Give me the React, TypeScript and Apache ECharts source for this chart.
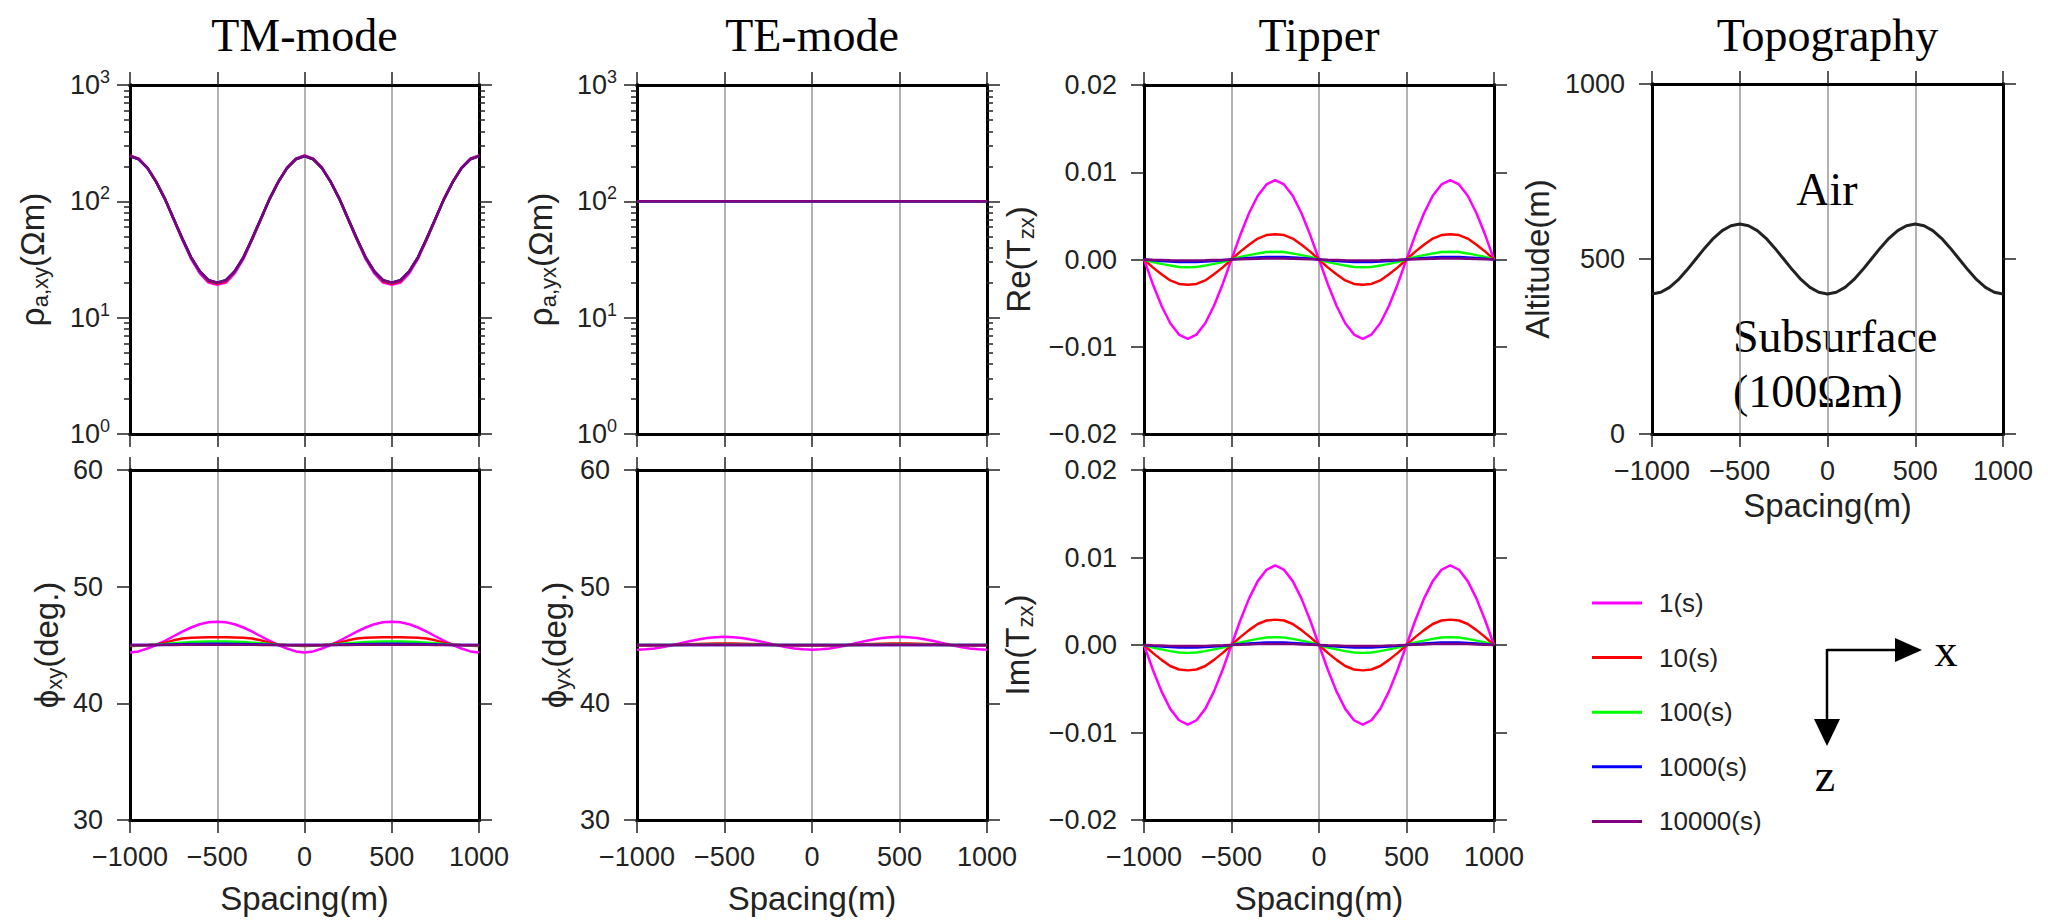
import React, { useEffect, useRef } from 'react';
import * as echarts from 'echarts';

// ---------------- data ----------------
const spacing = [-1000, -950, -900, -850, -800, -750, -700, -650, -600, -550, -500, -450, -400, -350, -300, -250, -200, -150, -100, -50, 0, 50, 100, 150, 200, 250, 300, 350, 400, 450, 500, 550, 600, 650, 700, 750, 800, 850, 900, 950, 1000];

const periodNames = ['1(s)', '10(s)', '100(s)', '1000(s)', '10000(s)'];
const periodColors = ['#ff00ff', '#ff0000', '#00ff00', '#0000ff', '#800080'];

const panelTitles = ['TM-mode', 'TE-mode', 'Tipper', 'Topography'];
const logMajor = [1, 10, 100, 1000];
const logMinor = [2, 3, 4, 5, 6, 7, 8, 9, 20, 30, 40, 50, 60, 70, 80, 90, 200, 300, 400, 500, 600, 700, 800, 900];

// TM-mode apparent resistivity (Ohm-m)
const rhoXY_1s = [248, 233, 195, 148, 105, 70, 47, 32, 24, 20, 19.2, 20, 24, 32, 47, 70, 105, 148, 195, 233, 248, 233, 195, 148, 105, 70, 47, 32, 24, 20, 19.2, 20, 24, 32, 47, 70, 105, 148, 195, 233, 248];
const rhoXY_10s = [247, 232, 194, 147, 105, 70, 47, 33, 25, 20.5, 19.6, 20.5, 25, 33, 47, 70, 105, 147, 194, 232, 247, 232, 194, 147, 105, 70, 47, 33, 25, 20.5, 19.6, 20.5, 25, 33, 47, 70, 105, 147, 194, 232, 247];
const rhoXY_100s = [245, 230, 193, 147, 105, 71, 48, 33, 25, 21, 20, 21, 25, 33, 48, 71, 105, 147, 193, 230, 245, 230, 193, 147, 105, 71, 48, 33, 25, 21, 20, 21, 25, 33, 48, 71, 105, 147, 193, 230, 245];
const rhoXY_1000s = [245, 230, 193, 147, 105, 71, 48, 33, 25, 21, 20, 21, 25, 33, 48, 71, 105, 147, 193, 230, 245, 230, 193, 147, 105, 71, 48, 33, 25, 21, 20, 21, 25, 33, 48, 71, 105, 147, 193, 230, 245];
const rhoXY_10000s = [245, 230, 193, 147, 105, 71, 48, 33, 25, 21, 20, 21, 25, 33, 48, 71, 105, 147, 193, 230, 245, 230, 193, 147, 105, 71, 48, 33, 25, 21, 20, 21, 25, 33, 48, 71, 105, 147, 193, 230, 245];

// TM-mode phase (deg.)
const phiXY_1s = [44.35, 44.45, 44.7, 45.0, 45.35, 45.75, 46.15, 46.5, 46.78, 46.95, 47.0, 46.95, 46.78, 46.5, 46.15, 45.75, 45.35, 45.0, 44.7, 44.45, 44.35, 44.45, 44.7, 45.0, 45.35, 45.75, 46.15, 46.5, 46.78, 46.95, 47.0, 46.95, 46.78, 46.5, 46.15, 45.75, 45.35, 45.0, 44.7, 44.45, 44.35];
const phiXY_10s = [44.92, 44.93, 44.97, 45.05, 45.2, 45.4, 45.55, 45.62, 45.65, 45.66, 45.66, 45.66, 45.65, 45.62, 45.55, 45.4, 45.2, 45.05, 44.97, 44.93, 44.92, 44.93, 44.97, 45.05, 45.2, 45.4, 45.55, 45.62, 45.65, 45.66, 45.66, 45.66, 45.65, 45.62, 45.55, 45.4, 45.2, 45.05, 44.97, 44.93, 44.92];
const phiXY_100s = [44.98, 44.98, 45.0, 45.03, 45.08, 45.14, 45.2, 45.25, 45.28, 45.3, 45.3, 45.3, 45.28, 45.25, 45.2, 45.14, 45.08, 45.03, 45.0, 44.98, 44.98, 44.98, 45.0, 45.03, 45.08, 45.14, 45.2, 45.25, 45.28, 45.3, 45.3, 45.3, 45.28, 45.25, 45.2, 45.14, 45.08, 45.03, 45.0, 44.98, 44.98];
const phiXY_1000s = [45.0, 45.0, 45.0, 45.01, 45.03, 45.05, 45.07, 45.08, 45.09, 45.1, 45.1, 45.1, 45.09, 45.08, 45.07, 45.05, 45.03, 45.01, 45.0, 45.0, 45.0, 45.0, 45.0, 45.01, 45.03, 45.05, 45.07, 45.08, 45.09, 45.1, 45.1, 45.1, 45.09, 45.08, 45.07, 45.05, 45.03, 45.01, 45.0, 45.0, 45.0];
const phiXY_10000s = [45.0, 45.0, 45.0, 45.0, 45.01, 45.01, 45.02, 45.02, 45.03, 45.03, 45.03, 45.03, 45.03, 45.02, 45.02, 45.01, 45.01, 45.0, 45.0, 45.0, 45.0, 45.0, 45.0, 45.0, 45.01, 45.01, 45.02, 45.02, 45.03, 45.03, 45.03, 45.03, 45.03, 45.02, 45.02, 45.01, 45.01, 45.0, 45.0, 45.0, 45.0];

// TE-mode apparent resistivity (Ohm-m)
const rhoYX_1s = [100, 100, 100, 100, 100, 100, 100, 100, 100, 100, 100, 100, 100, 100, 100, 100, 100, 100, 100, 100, 100, 100, 100, 100, 100, 100, 100, 100, 100, 100, 100, 100, 100, 100, 100, 100, 100, 100, 100, 100, 100];
const rhoYX_10s = [100, 100, 100, 100, 100, 100, 100, 100, 100, 100, 100, 100, 100, 100, 100, 100, 100, 100, 100, 100, 100, 100, 100, 100, 100, 100, 100, 100, 100, 100, 100, 100, 100, 100, 100, 100, 100, 100, 100, 100, 100];
const rhoYX_100s = [100, 100, 100, 100, 100, 100, 100, 100, 100, 100, 100, 100, 100, 100, 100, 100, 100, 100, 100, 100, 100, 100, 100, 100, 100, 100, 100, 100, 100, 100, 100, 100, 100, 100, 100, 100, 100, 100, 100, 100, 100];
const rhoYX_1000s = [100, 100, 100, 100, 100, 100, 100, 100, 100, 100, 100, 100, 100, 100, 100, 100, 100, 100, 100, 100, 100, 100, 100, 100, 100, 100, 100, 100, 100, 100, 100, 100, 100, 100, 100, 100, 100, 100, 100, 100, 100];
const rhoYX_10000s = [100, 100, 100, 100, 100, 100, 100, 100, 100, 100, 100, 100, 100, 100, 100, 100, 100, 100, 100, 100, 100, 100, 100, 100, 100, 100, 100, 100, 100, 100, 100, 100, 100, 100, 100, 100, 100, 100, 100, 100, 100];

// TE-mode phase (deg.)
const phiYX_1s = [44.6, 44.63, 44.7, 44.82, 44.98, 45.15, 45.32, 45.47, 45.6, 45.67, 45.7, 45.67, 45.6, 45.47, 45.32, 45.15, 44.98, 44.82, 44.7, 44.63, 44.6, 44.63, 44.7, 44.82, 44.98, 45.15, 45.32, 45.47, 45.6, 45.67, 45.7, 45.67, 45.6, 45.47, 45.32, 45.15, 44.98, 44.82, 44.7, 44.63, 44.6];
const phiYX_10s = [44.95, 44.95, 44.96, 44.98, 45.0, 45.03, 45.06, 45.09, 45.11, 45.12, 45.12, 45.12, 45.11, 45.09, 45.06, 45.03, 45.0, 44.98, 44.96, 44.95, 44.95, 44.95, 44.96, 44.98, 45.0, 45.03, 45.06, 45.09, 45.11, 45.12, 45.12, 45.12, 45.11, 45.09, 45.06, 45.03, 45.0, 44.98, 44.96, 44.95, 44.95];
const phiYX_100s = [45.0, 45.0, 45.0, 45.0, 45.01, 45.01, 45.02, 45.02, 45.03, 45.03, 45.03, 45.03, 45.03, 45.02, 45.02, 45.01, 45.01, 45.0, 45.0, 45.0, 45.0, 45.0, 45.0, 45.0, 45.01, 45.01, 45.02, 45.02, 45.03, 45.03, 45.03, 45.03, 45.03, 45.02, 45.02, 45.01, 45.01, 45.0, 45.0, 45.0, 45.0];
const phiYX_1000s = [45, 45, 45, 45, 45, 45, 45, 45, 45, 45, 45, 45, 45, 45, 45, 45, 45, 45, 45, 45, 45, 45, 45, 45, 45, 45, 45, 45, 45, 45, 45, 45, 45, 45, 45, 45, 45, 45, 45, 45, 45];
const phiYX_10000s = [45, 45, 45, 45, 45, 45, 45, 45, 45, 45, 45, 45, 45, 45, 45, 45, 45, 45, 45, 45, 45, 45, 45, 45, 45, 45, 45, 45, 45, 45, 45, 45, 45, 45, 45, 45, 45, 45, 45, 45, 45];

// Tipper, real part
const tzxRe_1s = [0, -0.0028, -0.0053, -0.0073, -0.0086, -0.0091, -0.0086, -0.0073, -0.0053, -0.0028, 0, 0.0028, 0.0053, 0.0073, 0.0086, 0.0091, 0.0086, 0.0073, 0.0053, 0.0028, 0, -0.0028, -0.0053, -0.0073, -0.0086, -0.0091, -0.0086, -0.0073, -0.0053, -0.0028, 0, 0.0028, 0.0053, 0.0073, 0.0086, 0.0091, 0.0086, 0.0073, 0.0053, 0.0028, 0];
const tzxRe_10s = [0, -0.0009, -0.0017, -0.0024, -0.0028, -0.0029, -0.0028, -0.0024, -0.0017, -0.0009, 0, 0.0009, 0.0017, 0.0024, 0.0028, 0.0029, 0.0028, 0.0024, 0.0017, 0.0009, 0, -0.0009, -0.0017, -0.0024, -0.0028, -0.0029, -0.0028, -0.0024, -0.0017, -0.0009, 0, 0.0009, 0.0017, 0.0024, 0.0028, 0.0029, 0.0028, 0.0024, 0.0017, 0.0009, 0];
const tzxRe_100s = [0, -0.0003, -0.0005, -0.0007, -0.00085, -0.0009, -0.00085, -0.0007, -0.0005, -0.0003, 0, 0.0003, 0.0005, 0.0007, 0.00085, 0.0009, 0.00085, 0.0007, 0.0005, 0.0003, 0, -0.0003, -0.0005, -0.0007, -0.00085, -0.0009, -0.00085, -0.0007, -0.0005, -0.0003, 0, 0.0003, 0.0005, 0.0007, 0.00085, 0.0009, 0.00085, 0.0007, 0.0005, 0.0003, 0];
const tzxRe_1000s = [0, -0.0001, -0.00018, -0.00024, -0.00028, -0.0003, -0.00028, -0.00024, -0.00018, -0.0001, 0, 0.0001, 0.00018, 0.00024, 0.00028, 0.0003, 0.00028, 0.00024, 0.00018, 0.0001, 0, -0.0001, -0.00018, -0.00024, -0.00028, -0.0003, -0.00028, -0.00024, -0.00018, -0.0001, 0, 0.0001, 0.00018, 0.00024, 0.00028, 0.0003, 0.00028, 0.00024, 0.00018, 0.0001, 0];
const tzxRe_10000s = [0, -0.00004, -0.00007, -0.0001, -0.00011, -0.00012, -0.00011, -0.0001, -0.00007, -0.00004, 0, 0.00004, 0.00007, 0.0001, 0.00011, 0.00012, 0.00011, 0.0001, 0.00007, 0.00004, 0, -0.00004, -0.00007, -0.0001, -0.00011, -0.00012, -0.00011, -0.0001, -0.00007, -0.00004, 0, 0.00004, 0.00007, 0.0001, 0.00011, 0.00012, 0.00011, 0.0001, 0.00007, 0.00004, 0];

// Tipper, imaginary part
const tzxIm_1s = [0, -0.0028, -0.0053, -0.0073, -0.0086, -0.0091, -0.0086, -0.0073, -0.0053, -0.0028, 0, 0.0028, 0.0053, 0.0073, 0.0086, 0.0091, 0.0086, 0.0073, 0.0053, 0.0028, 0, -0.0028, -0.0053, -0.0073, -0.0086, -0.0091, -0.0086, -0.0073, -0.0053, -0.0028, 0, 0.0028, 0.0053, 0.0073, 0.0086, 0.0091, 0.0086, 0.0073, 0.0053, 0.0028, 0];
const tzxIm_10s = [0, -0.0009, -0.0017, -0.0024, -0.0028, -0.0029, -0.0028, -0.0024, -0.0017, -0.0009, 0, 0.0009, 0.0017, 0.0024, 0.0028, 0.0029, 0.0028, 0.0024, 0.0017, 0.0009, 0, -0.0009, -0.0017, -0.0024, -0.0028, -0.0029, -0.0028, -0.0024, -0.0017, -0.0009, 0, 0.0009, 0.0017, 0.0024, 0.0028, 0.0029, 0.0028, 0.0024, 0.0017, 0.0009, 0];
const tzxIm_100s = [0, -0.0003, -0.0005, -0.0007, -0.00085, -0.0009, -0.00085, -0.0007, -0.0005, -0.0003, 0, 0.0003, 0.0005, 0.0007, 0.00085, 0.0009, 0.00085, 0.0007, 0.0005, 0.0003, 0, -0.0003, -0.0005, -0.0007, -0.00085, -0.0009, -0.00085, -0.0007, -0.0005, -0.0003, 0, 0.0003, 0.0005, 0.0007, 0.00085, 0.0009, 0.00085, 0.0007, 0.0005, 0.0003, 0];
const tzxIm_1000s = [0, -0.0001, -0.00018, -0.00024, -0.00028, -0.0003, -0.00028, -0.00024, -0.00018, -0.0001, 0, 0.0001, 0.00018, 0.00024, 0.00028, 0.0003, 0.00028, 0.00024, 0.00018, 0.0001, 0, -0.0001, -0.00018, -0.00024, -0.00028, -0.0003, -0.00028, -0.00024, -0.00018, -0.0001, 0, 0.0001, 0.00018, 0.00024, 0.00028, 0.0003, 0.00028, 0.00024, 0.00018, 0.0001, 0];
const tzxIm_10000s = [0, -0.00004, -0.00007, -0.0001, -0.00011, -0.00012, -0.00011, -0.0001, -0.00007, -0.00004, 0, 0.00004, 0.00007, 0.0001, 0.00011, 0.00012, 0.00011, 0.0001, 0.00007, 0.00004, 0, -0.00004, -0.00007, -0.0001, -0.00011, -0.00012, -0.00011, -0.0001, -0.00007, -0.00004, 0, 0.00004, 0.00007, 0.0001, 0.00011, 0.00012, 0.00011, 0.0001, 0.00007, 0.00004, 0];

// Topography (altitude, m)
const altitude = [400, 405, 419, 441, 469, 500, 531, 559, 581, 595, 600, 595, 581, 559, 531, 500, 469, 441, 419, 405, 400, 405, 419, 441, 469, 500, 531, 559, 581, 595, 600, 595, 581, 559, 531, 500, 469, 441, 419, 405, 400];

// ---------------- styling ----------------
const SANS = '"Liberation Sans", Arial, Helvetica, sans-serif';
const SERIF = '"Liberation Serif", "Times New Roman", Times, serif';
const TXT = '#222';

const gridRects = [
  { left: 130, top: 85, width: 349, height: 349 },
  { left: 130, top: 470, width: 349, height: 350 },
  { left: 637, top: 85, width: 350, height: 349 },
  { left: 637, top: 470, width: 350, height: 350 },
  { left: 1144, top: 85, width: 350, height: 349 },
  { left: 1144, top: 470, width: 350, height: 350 },
  { left: 1652, top: 84, width: 351, height: 350 },
];

const fmtSpacing = (v: number) => (v < 0 ? '\u2212' + Math.abs(v) : String(v));
const fmtPlain = (v: number) => String(v);
const fmtTipper = (v: number) => (Math.abs(v) < 1e-9 ? '0.00' : (v < 0 ? '\u2212' : '') + Math.abs(v).toFixed(2));
const fmtPow = (v: number) => `{b|10}{p|${Math.round(Math.log10(v))}}`;

function buildOption() {
  const xAxis: any[] = [];
  const yAxis: any[] = [];
  const series: any[] = [];

  const frame = { show: true, onZero: false, lineStyle: { color: '#000', width: 3, cap: 'square' } };
  const noLine = { show: false, onZero: false };
  const majorTick = { show: true, inside: false, length: 13, lineStyle: { color: TXT, width: 1.5 } };
  const minorTick = { show: true, inside: false, length: 6, lineStyle: { color: TXT, width: 1.5 } };
  const tickLabel = { fontSize: 27, fontFamily: SANS, color: TXT };
  const nameStyle = {
    fontSize: 33, fontFamily: SANS, color: TXT, lineHeight: 37,
    rich: {
      m: { fontSize: 33, fontFamily: SANS, color: TXT, lineHeight: 37 },
      s: { fontSize: 22, fontFamily: SANS, color: TXT, lineHeight: 20, verticalAlign: 'bottom' },
    },
  };

  function addX(gi: number, showLabels: boolean, nameGap: number) {
    const idx = xAxis.length;
    xAxis.push({
      type: 'value', gridIndex: gi, position: 'bottom', min: -1000, max: 1000, interval: 500, z: 3,
      axisLine: frame, axisTick: majorTick,
      axisLabel: { show: showLabels, margin: 23, ...tickLabel, formatter: fmtSpacing },
      splitLine: { show: false },
      name: showLabels ? 'Spacing(m)' : '', nameLocation: 'middle', nameGap, nameTextStyle: nameStyle, nameMoveOverlap: false,
    });
    xAxis.push({
      type: 'value', gridIndex: gi, position: 'top', min: -1000, max: 1000, interval: 500, z: 1,
      axisLine: frame, axisTick: majorTick, axisLabel: { show: false },
      splitLine: { show: true, lineStyle: { color: '#999', width: 1.5 } },
    });
    return idx;
  }

  function addYValue(gi: number, min: number, max: number, interval: number, fmt: any, name: string, nameGap: number) {
    const idx = yAxis.length;
    yAxis.push({
      type: 'value', gridIndex: gi, position: 'left', min, max, interval, z: 3,
      axisLine: frame, axisTick: majorTick,
      axisLabel: { margin: 27, ...tickLabel, formatter: fmt },
      splitLine: { show: false },
      name, nameLocation: 'middle', nameGap, nameRotate: 90, nameTextStyle: nameStyle, nameMoveOverlap: false,
    });
    yAxis.push({
      type: 'value', gridIndex: gi, position: 'right', min, max, interval, z: 3,
      axisLine: frame, axisTick: majorTick, axisLabel: { show: false }, splitLine: { show: false },
    });
    return idx;
  }

  function addYLog(gi: number, name: string, nameGap: number) {
    const idx = yAxis.length;
    const base = { type: 'log', logBase: 10, gridIndex: gi, min: 1, max: 1000, z: 3, splitLine: { show: false } };
    yAxis.push({
      ...base, position: 'left', axisLine: frame,
      axisTick: { ...majorTick, customValues: logMajor },
      axisLabel: {
        margin: 20, ...tickLabel, customValues: logMajor, formatter: fmtPow,
        rich: {
          b: { fontSize: 27, fontFamily: SANS, color: TXT, lineHeight: 34 },
          p: { fontSize: 18, fontFamily: SANS, color: TXT, lineHeight: 16, verticalAlign: 'top' },
        },
      },
      name, nameLocation: 'middle', nameGap, nameRotate: 90, nameTextStyle: nameStyle, nameMoveOverlap: false,
    });
    yAxis.push({ ...base, position: 'left', axisLine: noLine, axisTick: { ...minorTick, customValues: logMinor }, axisLabel: { show: false } });
    yAxis.push({ ...base, position: 'right', axisLine: frame, axisTick: { ...majorTick, customValues: logMajor }, axisLabel: { show: false } });
    yAxis.push({ ...base, position: 'right', axisLine: noLine, axisTick: { ...minorTick, customValues: logMinor }, axisLabel: { show: false } });
    return idx;
  }

  function addPeriodSeries(xi: number, yi: number, arrays: number[][]) {
    arrays.forEach((arr, k) => {
      series.push({
        type: 'line', name: periodNames[k], xAxisIndex: xi, yAxisIndex: yi,
        data: spacing.map((x, i) => [x, arr[i]]),
        symbol: 'none', showSymbol: false, clip: true, silent: true,
        lineStyle: { color: periodColors[k], width: 2.5 },
        itemStyle: { color: periodColors[k] },
      });
    });
  }

  // TM-mode
  let xi = addX(0, false, 60);
  let yi = addYLog(0, '{m|ρ}{s|a,xy}{m|(Ωm)}', 79);
  addPeriodSeries(xi, yi, [rhoXY_1s, rhoXY_10s, rhoXY_100s, rhoXY_1000s, rhoXY_10000s]);
  xi = addX(1, true, 60);
  yi = addYValue(1, 30, 60, 10, fmtPlain, '{m|ϕ}{s|xy}{m|(deg.)}', 65);
  addPeriodSeries(xi, yi, [phiXY_1s, phiXY_10s, phiXY_100s, phiXY_1000s, phiXY_10000s]);

  // TE-mode
  xi = addX(2, false, 60);
  yi = addYLog(2, '{m|ρ}{s|a,yx}{m|(Ωm)}', 78);
  addPeriodSeries(xi, yi, [rhoYX_1s, rhoYX_10s, rhoYX_100s, rhoYX_1000s, rhoYX_10000s]);
  xi = addX(3, true, 60);
  yi = addYValue(3, 30, 60, 10, fmtPlain, '{m|ϕ}{s|yx}{m|(deg.)}', 64);
  addPeriodSeries(xi, yi, [phiYX_1s, phiYX_10s, phiYX_100s, phiYX_1000s, phiYX_10000s]);

  // Tipper
  xi = addX(4, false, 60);
  yi = addYValue(4, -0.02, 0.02, 0.01, fmtTipper, '{m|Re(T}{s|zx}{m|)}', 107);
  addPeriodSeries(xi, yi, [tzxRe_1s, tzxRe_10s, tzxRe_100s, tzxRe_1000s, tzxRe_10000s]);
  xi = addX(5, true, 60);
  yi = addYValue(5, -0.02, 0.02, 0.01, fmtTipper, '{m|Im(T}{s|zx}{m|)}', 108);
  addPeriodSeries(xi, yi, [tzxIm_1s, tzxIm_10s, tzxIm_100s, tzxIm_1000s, tzxIm_10000s]);

  // Topography
  xi = addX(6, true, 53);
  yi = addYValue(6, 0, 1000, 500, fmtPlain, 'Altitude(m)', 96);
  series.push({
    type: 'line', name: 'Altitude', xAxisIndex: xi, yAxisIndex: yi,
    data: spacing.map((x, i) => [x, altitude[i]]),
    symbol: 'none', showSymbol: false, silent: true,
    lineStyle: { color: '#222', width: 3 },
  });

  const titleCenters = [0, 2, 4, 6].map((g) => gridRects[g].left + gridRects[g].width / 2);
  const textStyle = (text: string, size: number, align: string) => ({
    text, fontSize: size, fontFamily: SERIF, fill: '#000',
    align, verticalAlign: 'middle', textAlign: align, textVerticalAlign: 'middle',
  });

  const graphicEls: any[] = [
    ...panelTitles.map((t, i) => ({ type: 'text', x: titleCenters[i], y: 35, style: textStyle(t, 46, 'center') })),
    { type: 'text', x: 1827, y: 189, style: textStyle('Air', 46, 'center') },
    { type: 'text', x: 1733, y: 336, style: textStyle('Subsurface', 46, 'left') },
    { type: 'text', x: 1733, y: 391, style: textStyle('(100Ωm)', 46, 'left') },
    // coordinate arrows
    { type: 'line', shape: { x1: 1827, y1: 650, x2: 1898, y2: 650 }, style: { stroke: '#000', lineWidth: 2.5 } },
    { type: 'polygon', shape: { points: [[1895, 638], [1922, 650], [1895, 662]] }, style: { fill: '#000' } },
    { type: 'line', shape: { x1: 1827, y1: 649, x2: 1827, y2: 722 }, style: { stroke: '#000', lineWidth: 2.5 } },
    { type: 'polygon', shape: { points: [[1814, 719], [1840, 719], [1827, 746]] }, style: { fill: '#000' } },
    { type: 'text', x: 1946, y: 650, style: textStyle('x', 46, 'center') },
    { type: 'text', x: 1825, y: 775, style: textStyle('z', 46, 'center') },
  ];

  return {
    animation: false,
    backgroundColor: '#fff',
    grid: gridRects.map((r) => ({ ...r, show: false, containLabel: false, outerBoundsMode: 'none' })),
    xAxis,
    yAxis,
    series,
    legend: {
      orient: 'vertical', left: 1587, top: 585,
      itemWidth: 50, itemHeight: 3, itemGap: 28.6,
      icon: 'rect',
      data: periodNames,
      selectedMode: false,
      textStyle: { fontSize: 26, lineHeight: 26, fontFamily: SANS, color: TXT, padding: [0, 0, 0, 12] },
    },
    graphic: { elements: graphicEls },
  };
}

export default function App() {
  const ref = useRef<HTMLDivElement>(null);
  useEffect(() => {
    if (!ref.current) return;
    const chart = echarts.init(ref.current, undefined, { renderer: 'svg' });
    chart.setOption(buildOption() as any);
    return () => chart.dispose();
  }, []);
  return (
    <div
      ref={ref}
      style={{ position: 'fixed', left: 0, top: 0, width: 2048, height: 923, background: '#fff' }}
    />
  );
}
